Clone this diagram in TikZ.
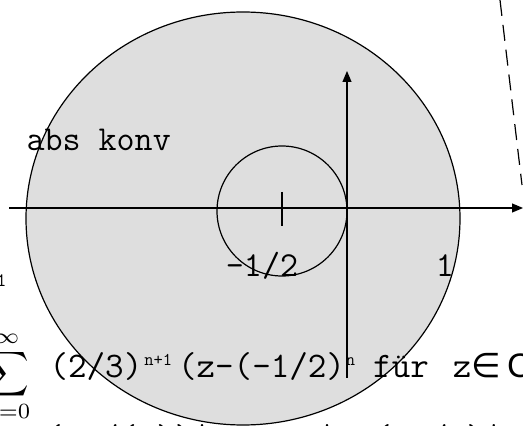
\documentclass[tikz,border=0pt]{standalone}
\usepackage{fontspec}
\usepackage{graphicx}
\newfontfamily\arialC{Liberation Sans}
\newfontfamily\symfont{DejaVu Sans}
\usetikzlibrary{arrows.meta}
\definecolor{DiskGray}{HTML}{DEDEDE}

\begin{document}
\begin{tikzpicture}[x=1pt,y=1pt,line width=1.2pt,
    axis/.style={-{Triangle[length=11pt,width=9pt]}},
    lbl/.style={font=\ttfamily\fontsize{35}{35}\selectfont,inner sep=0pt},
    eq/.style={font=\ttfamily\fontsize{36}{36}\selectfont,inner sep=0pt}]
  \useasboundingbox (0,0) rectangle (523,426);
  \clip (0,0) rectangle (523,426);
  % disk of convergence and the inner circle
  \draw[fill=DiskGray] (243,207.5) ellipse [x radius=217,y radius=206.5];
  \draw (282,215) circle [radius=65];
  % axes
  \coordinate (xL) at (9,218);
  \coordinate (xR) at (523,218);
  \coordinate (yB) at (347,48);
  \coordinate (yT) at (347,355);
  \draw[axis] (xL) -- (xR);
  \draw[axis] (yB) -- (yT);
  \coordinate (tkT) at (282,234);
  \coordinate (tkB) at (282,200);
  \draw (tkT) -- (tkB);
  % dashed boundary
  \coordinate (dT) at (500,426);
  \coordinate (dB) at (522,241);
  \draw[dash pattern=on 16pt off 9pt] (dT) -- (dB);
  % labels
  \node[lbl,anchor=west] (abs) at (26,286) {abs konv};
  \node[lbl,anchor=base] (half) at (262,149) {-1/2};
  \node[lbl,anchor=base] (one) at (445,149) {1};
  \node[inner sep=0pt,anchor=base east,font=\ttfamily\fontsize{19}{19}\selectfont] (supL) at (7,139) {1};
  \node[inner sep=0pt] (sum) at (7,50) {\scalebox{3.1}{$\displaystyle\sum_{n=0}^{\infty}$}};
  \node[eq,anchor=base west] (series) at (49,48)
    {(2/3)\kern2pt\raisebox{12pt}{\fontsize{18}{18}\selectfont n+1}\kern6pt(z-(-1/2)\kern1pt\raisebox{12pt}{\fontsize{18}{18}\selectfont n}\kern18pt für\kern24pt z{\fontsize{34}{34}\selectfont\symfont ∈}\kern6pt{\arialC\fontsize{34}{34}\selectfont C}};
  \node[eq,anchor=base west] (cut) at (44,-24) {(-1/(2))|<1 \kern2pt{\symfont ⇔} |z-(-1/2)|<3/2};
\end{tikzpicture}
\end{document}
